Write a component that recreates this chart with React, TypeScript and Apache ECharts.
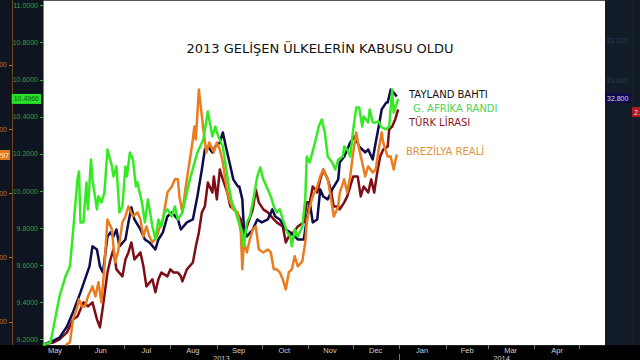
import React, { useEffect, useRef } from "react";
import * as echarts from "echarts";

// x values: days counted from 1 May 2013; y values: left-axis (USD/ZAR) scale
const monthLabels = ["May", "Jun", "Jul", "Aug", "Sep", "Oct", "Nov", "Dec", "Jan", "Feb", "Mar", "Apr"];
const monthMidDays = [15, 45.5, 76, 107, 137.5, 168, 198.5, 229, 260, 290, 319, 350];
const monthStartDays = [31, 61, 92, 123, 153, 184, 214, 245, 276, 304, 335, 365];
const yearLabels = ["2013", "2014"];
const yearMidDays = [126, 313];
const yearBreakDays = [245];
const leftTicks = [9.2, 9.4, 9.6, 9.8, 10.0, 10.2, 10.4, 10.6, 10.8, 11.0];
const lastZar = [10.4966];
const brlTicks = [2.0, 2.1, 2.2, 2.3, 2.4];

const seriesNames = ["TÜRK LİRASI", "TAYLAND BAHTI", "BREZİLYA REALİ", "G. AFRİKA RANDI"];
const seriesColors = ["#7d0d16", "#0c0c4e", "#ea7d1f", "#35ea22"];

const tryData: [number, number][] = [
  [8, 9.175], [14, 9.184], [18, 9.2], [23, 9.238], [27, 9.308], [30, 9.324], [34, 9.4], [37, 9.378], [40, 9.4],
  [43, 9.308], [45, 9.265], [47, 9.378], [50, 9.561], [52, 9.631], [54, 9.685], [56, 9.578], [60, 9.54],
  [62, 9.631], [64, 9.669], [66, 9.723], [68, 9.631], [72, 9.669], [74, 9.594], [76, 9.486], [80, 9.524],
  [82, 9.454], [84, 9.524], [86, 9.561], [90, 9.54], [92, 9.578], [94, 9.561], [97, 9.561], [99, 9.54],
  [100, 9.513], [103, 9.578], [107, 9.615], [109, 9.702], [111, 9.777], [113, 9.885], [115, 9.917],
  [117, 10.046], [120, 9.992], [121, 10.079], [123, 9.955], [125, 10.116], [127, 10.063], [130, 9.992],
  [132, 9.917], [135, 9.901], [139, 9.847], [141, 9.755], [144, 9.831], [147, 9.901], [149, 10.009],
  [151, 9.939], [154, 9.901], [157, 9.885], [161, 9.847], [163, 9.831], [167, 9.809], [169, 9.723],
  [171, 9.755], [174, 9.777], [177, 9.809], [181, 9.831], [183, 9.939], [185, 9.939], [187, 10.025],
  [190, 9.992], [192, 10.063], [194, 10.116], [197, 10.063], [199, 10.009], [201, 9.917], [204, 9.917],
  [205, 9.901], [208, 9.939], [210, 9.971], [212, 10.025], [214, 10.079], [217, 10.079], [219, 9.971],
  [221, 10.025], [224, 9.992], [226, 10.063], [228, 9.992], [230, 10.1], [232, 10.186], [234, 10.224],
  [237, 10.24], [238, 10.332], [240, 10.348], [242, 10.386], [244, 10.44],
];

const thbData: [number, number][] = [
  [8, 9.175], [13, 9.19], [18, 9.21], [23, 9.27], [27, 9.346], [32, 9.454], [35, 9.524], [38, 9.594],
  [40, 9.702], [43, 9.685], [45, 9.594], [47, 9.561], [50, 9.755], [52, 9.777], [54, 9.755], [56, 9.793],
  [58, 9.702], [62, 9.739], [64, 9.831], [66, 9.912], [68, 9.847], [72, 9.793], [75, 9.739], [78, 9.723],
  [82, 9.685], [84, 9.739], [87, 9.777], [90, 9.863], [93, 9.885], [97, 9.847], [99, 9.793], [103, 9.831],
  [107, 9.847], [110, 9.971], [113, 10.116], [115, 10.224], [117, 10.24], [120, 10.208], [122, 10.24],
  [125, 10.262], [127, 10.316], [129, 10.24], [131, 10.17], [134, 10.063], [137, 10.025], [138, 10.025],
  [140, 9.955], [141, 9.809], [143, 9.755], [147, 9.793], [150, 9.847], [153, 9.831], [157, 9.847],
  [160, 9.901], [162, 9.863], [165, 9.847], [169, 9.793], [172, 9.777], [175, 9.755], [177, 9.739],
  [181, 9.739], [183, 9.847], [185, 9.939], [187, 9.831], [190, 9.847], [192, 10.009], [194, 9.971],
  [197, 9.955], [200, 10.009], [204, 10.063], [205, 10.154], [208, 10.186], [210, 10.224], [212, 10.262],
  [215, 10.294], [218, 10.24], [220, 10.224], [222, 10.208], [224, 10.224], [227, 10.17], [229, 10.262],
  [231, 10.348], [233, 10.44], [236, 10.477], [237, 10.477], [239, 10.547], [241, 10.531], [243, 10.51],
];

const brlData: [number, number][] = [
  [22, 9.17], [25, 9.184], [27, 9.308], [30, 9.378], [31, 9.416], [33, 9.378], [35, 9.378], [37, 9.432],
  [40, 9.486], [42, 9.432], [44, 9.508], [46, 9.4], [48, 9.594], [50, 9.847], [53, 9.793], [55, 9.615],
  [57, 9.669], [60, 9.831], [62, 9.863], [64, 9.917], [67, 9.863], [70, 9.885], [72, 9.847], [74, 9.755],
  [76, 9.809], [78, 9.755], [80, 9.723], [83, 9.755], [85, 9.809], [87, 9.847], [90, 9.992], [93, 10.025],
  [95, 10.063], [97, 10.063], [98, 9.971], [100, 9.885], [102, 10.009], [104, 10.116], [107, 10.278],
  [108, 10.348], [109, 10.278], [111, 10.547], [114, 10.332], [116, 10.208], [118, 10.262], [121, 10.208],
  [123, 10.262], [125, 10.224], [127, 10.154], [130, 9.992], [132, 9.939], [134, 9.901], [137, 9.885],
  [139, 9.777], [140, 9.578], [141, 9.723], [143, 9.669], [145, 9.739], [147, 9.793], [149, 9.809],
  [151, 9.685], [154, 9.669], [157, 9.685], [159, 9.669], [161, 9.578], [163, 9.578], [165, 9.561],
  [167, 9.524], [169, 9.47], [171, 9.561], [173, 9.578], [175, 9.648], [177, 9.594], [180, 9.621],
  [182, 9.723], [183, 9.831], [185, 9.917], [187, 9.971], [190, 10.025], [192, 10.079], [194, 10.116],
  [197, 10.063], [199, 9.971], [201, 9.863], [204, 9.917], [205, 9.992], [208, 10.063], [210, 9.992],
  [212, 10.079], [214, 10.208], [216, 10.316], [218, 10.224], [220, 10.154], [222, 10.079], [224, 10.133],
  [227, 10.1], [229, 10.116], [231, 10.224], [233, 10.316], [234, 10.262], [237, 10.186], [239, 10.186],
  [241, 10.116], [243, 10.197],
];

const zarData: [number, number][] = [
  [7, 9.17], [12, 9.184], [18, 9.432], [22, 9.54], [25, 9.594], [27, 9.777], [30, 10.063], [31, 10.106],
  [32, 9.831], [34, 9.831], [36, 10.046], [37, 9.901], [39, 10.17], [40, 10.063], [43, 9.901], [44, 9.971],
  [46, 9.939], [48, 9.992], [50, 10.224], [53, 10.133], [54, 10.079], [56, 10.133], [58, 9.885], [60, 9.917],
  [62, 10.133], [63, 10.079], [65, 10.208], [67, 10.17], [69, 10.025], [70, 10.046], [73, 9.939], [75, 9.831],
  [77, 9.955], [80, 9.809], [82, 9.739], [84, 9.847], [86, 9.809], [88, 9.885], [90, 9.901], [93, 9.863],
  [95, 9.917], [97, 9.847], [100, 9.885], [105, 10.063], [110, 10.208], [114, 10.278], [117, 10.429],
  [120, 10.294], [122, 10.348], [124, 10.294], [127, 10.24], [129, 10.133], [131, 10.025], [133, 9.939],
  [135, 9.901], [137, 9.847], [140, 9.777], [141, 9.702], [143, 9.831], [145, 9.863], [147, 9.939],
  [150, 10.079], [152, 10.127], [154, 10.063], [157, 10.009], [159, 9.971], [161, 9.917], [163, 9.885],
  [165, 9.901], [167, 9.847], [170, 9.777], [172, 9.755], [173, 9.702], [175, 9.793], [177, 9.755],
  [180, 9.809], [182, 9.955], [183, 10.186], [185, 10.154], [189, 10.278], [191, 10.348], [193, 10.386],
  [195, 10.316], [197, 10.186], [200, 10.154], [202, 10.116], [204, 10.17], [207, 10.186], [208, 10.24],
  [210, 10.224], [212, 10.186], [214, 10.332], [216, 10.45], [218, 10.45], [220, 10.348], [221, 10.402],
  [224, 10.37], [225, 10.44], [227, 10.37], [229, 10.37], [231, 10.375], [233, 10.343], [236, 10.332],
  [238, 10.348], [240, 10.547], [241, 10.423], [244, 10.4966],
];

const seriesData = [tryData, thbData, brlData, zarData];

const near = (arr: number[], v: number) => arr.findIndex((a) => Math.abs(a - v) < 0.01);

export default function App() {
  const ref = useRef<HTMLDivElement>(null);
  useEffect(() => {
    if (!ref.current) return;
    const chart = echarts.init(ref.current, null, { renderer: "svg" });
    const yMin = 9.17;
    const yMax = 11.03;
    const option: any = {
      animation: false,
      backgroundColor: "#000000",
      grid: {
        left: 43, right: 35, top: 0, bottom: 15, show: true, backgroundColor: "#ffffff", borderWidth: 0,
        containLabel: false, outerBoundsMode: "none",
      },
      xAxis: [
        {
          type: "value", min: 7, max: 382, position: "bottom",
          axisLine: { show: true, lineStyle: { color: "#222" } },
          axisTick: { show: true, customValues: monthStartDays, length: 4, lineStyle: { color: "#777" } },
          axisLabel: {
            customValues: monthMidDays, margin: 1, fontSize: 7.5, color: "#cfcfcf", fontFamily: "Liberation Sans",
            formatter: (v: number) => monthLabels[near(monthMidDays, v)] ?? "",
          },
          splitLine: { show: false },
        },
        {
          type: "value", min: 7, max: 382, position: "bottom", offset: 9,
          axisLine: { show: false },
          axisTick: { show: true, customValues: yearBreakDays, length: 6, lineStyle: { color: "#777" } },
          axisLabel: {
            customValues: yearMidDays, margin: 0, fontSize: 7.5, color: "#cfcfcf", fontFamily: "Liberation Sans",
            formatter: (v: number) => yearLabels[near(yearMidDays, v)] ?? "",
          },
          splitLine: { show: false },
        },
      ],
      yAxis: [
        {
          type: "value", min: yMin, max: yMax, position: "left",
          axisLine: { show: true, lineStyle: { color: "#2fb52f", width: 1 } },
          axisTick: { show: true, customValues: leftTicks, length: 3, lineStyle: { color: "#2fb52f" } },
          axisLabel: {
            customValues: leftTicks, margin: 5, fontSize: 7, color: "#3a9d3a", fontFamily: "Liberation Sans",
            formatter: (v: number) => v.toFixed(4),
          },
          splitLine: { show: false },
        },
        {
          type: "value", min: yMin, max: yMax, position: "left", offset: 0,
          axisLine: { show: false }, axisTick: { show: false },
          axisLabel: {
            customValues: lastZar, margin: 2, fontSize: 7, color: "#0b5e0b", fontFamily: "Liberation Sans",
            backgroundColor: "#27e027", padding: [2, 2, 1, 2],
            formatter: (v: number) => v.toFixed(4),
          },
          splitLine: { show: false },
        },
        {
          type: "value", min: 1.964, max: 2.501, position: "left", offset: 31,
          axisLine: { show: true, lineStyle: { color: "#6e4424", width: 1 } },
          axisTick: { show: true, customValues: brlTicks, length: 3, lineStyle: { color: "#b8782e" } },
          axisLabel: {
            customValues: brlTicks, margin: 5, fontSize: 7, color: "#b8782e", fontFamily: "Liberation Sans",
            formatter: (v: number) => v.toFixed(4),
          },
          splitLine: { show: false },
        },
      ],
      graphic: [
        { type: "rect", z: -10, shape: { x: 0, y: 0, width: 43, height: 345 }, style: { fill: "#0e1521" }, silent: true },
        { type: "rect", z: -10, shape: { x: 605, y: 0, width: 35, height: 345 }, style: { fill: "#121c29" }, silent: true },
        { type: "rect", z: 10, shape: { x: 43, y: 0, width: 562, height: 1 }, style: { fill: "#555" }, silent: true },
        { type: "line", z: -5, shape: { x1: 633, y1: 0, x2: 633, y2: 345 }, style: { stroke: "#2a1c22", lineWidth: 1 }, silent: true },
        {
          type: "text", x: 10, y: 155, z: 20,
          style: {
            text: "2.3297", align: "right", verticalAlign: "middle", fontSize: 7, fontFamily: "Liberation Sans",
            fill: "#fff1e0", backgroundColor: "#e07820", padding: [2, 1, 1, 2],
          },
        },
        { type: "text", x: 606, y: 40, style: { text: "33.200", verticalAlign: "middle", fontSize: 7, fontFamily: "Liberation Sans", fill: "#2c3b4e" } },
        { type: "text", x: 606, y: 80, style: { text: "33.000", verticalAlign: "middle", fontSize: 7, fontFamily: "Liberation Sans", fill: "#2c3b4e" } },
        {
          type: "text", x: 605, y: 98, z: 20,
          style: {
            text: "32.800", verticalAlign: "middle", fontSize: 7, fontFamily: "Liberation Sans",
            fill: "#d0d6ff", backgroundColor: "#0d0d4c", padding: [2, 2, 1, 2],
          },
        },
        {
          type: "text", x: 632, y: 112, z: 20,
          style: {
            text: "2.9", verticalAlign: "middle", fontSize: 7, fontFamily: "Liberation Sans",
            fill: "#ffdede", backgroundColor: "#b01818", padding: [2, 2, 1, 2],
          },
        },
        {
          type: "text", x: 320, y: 48, z: 20,
          style: {
            text: "2013 GELİŞEN ÜLKELERİN KABUSU OLDU", align: "center", verticalAlign: "middle",
            fontSize: 13, fontFamily: "DejaVu Sans", fill: "#111",
          },
        },
        { type: "text", x: 409, y: 94, z: 20, style: { text: seriesNames[1], verticalAlign: "middle", fontSize: 10, fontFamily: "DejaVu Sans", fill: "#111" } },
        { type: "text", x: 413, y: 108, z: 20, style: { text: seriesNames[3], verticalAlign: "middle", fontSize: 10, fontFamily: "DejaVu Sans", fill: "#4fd24f" } },
        { type: "text", x: 409, y: 122, z: 20, style: { text: seriesNames[0], verticalAlign: "middle", fontSize: 10, fontFamily: "DejaVu Sans", fill: "#8c1a26" } },
        { type: "text", x: 406, y: 151, z: 20, style: { text: seriesNames[2], verticalAlign: "middle", fontSize: 10, fontFamily: "DejaVu Sans", fill: "#e1913d" } },
      ],
      series: seriesData.map((d, i) => ({
        name: seriesNames[i],
        type: "line",
        data: d,
        xAxisIndex: 0,
        yAxisIndex: 0,
        showSymbol: false,
        symbol: "none",
        clip: true,
        lineStyle: { color: seriesColors[i], width: 2.5, join: "round" },
        z: 2 + i,
      })),
    };
    chart.setOption(option);
    return () => chart.dispose();
  }, []);
  return <div ref={ref} style={{ position: "fixed", left: 0, top: 0, width: 640, height: 360 }} />;
}
